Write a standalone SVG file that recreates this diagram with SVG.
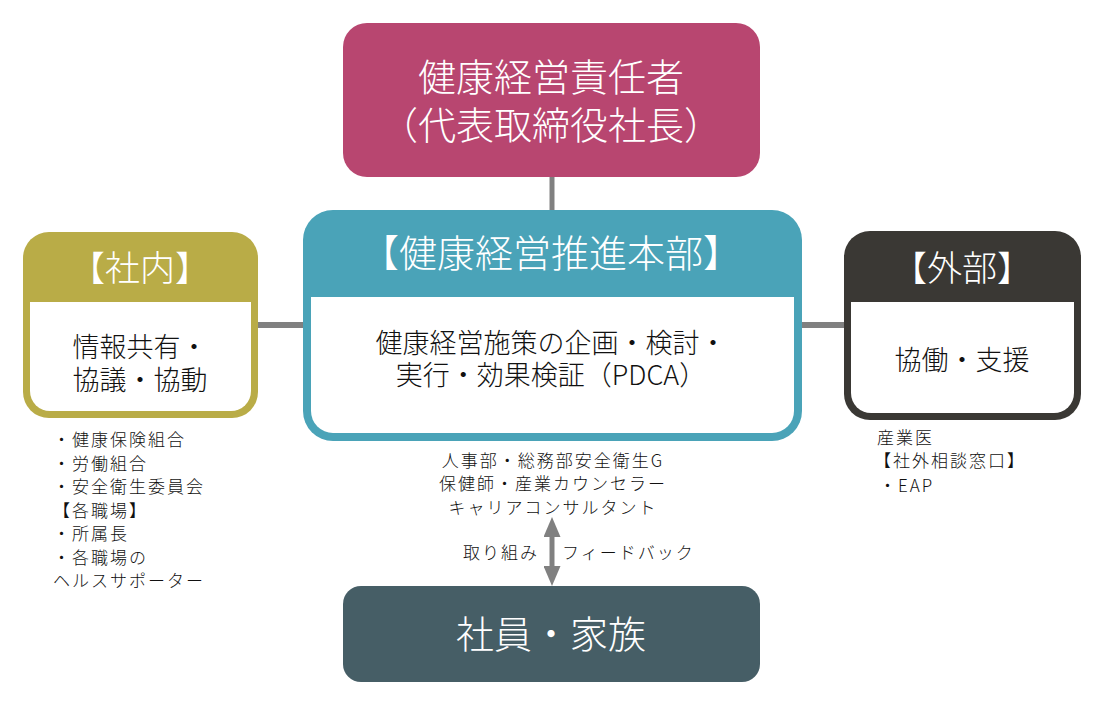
<svg xmlns="http://www.w3.org/2000/svg" width="1105" height="702" viewBox="0 0 1105 702">
<style>
text{font-family:"Noto Sans CJK JP","Noto Sans",sans-serif;}
.w{fill:#ffffff;font-weight:300;}
.k{fill:#111111;font-weight:300;}
.big{font-size:38px;}
.hd{font-size:35px;}
.body{font-size:27px;}
.sm{font-size:17px;letter-spacing:2px;fill:#111111;font-weight:300;}
.mid{text-anchor:middle;}
.conn{stroke:#808080;fill:none;}
</style>
<defs>
<marker id="ah" viewBox="0 0 20 17" refX="0" refY="8.5" markerWidth="20" markerHeight="17" markerUnits="userSpaceOnUse" orient="auto-start-reverse">
<path d="M0,0 L20,8.5 L0,17 Z" fill="#808080"/>
</marker>
</defs>
<rect width="1105" height="702" fill="#ffffff"/>
<g id="connectors">
<line class="conn" x1="552" y1="176" x2="552" y2="211" stroke-width="5"/>
<line class="conn" x1="256" y1="325" x2="305" y2="325" stroke-width="6"/>
<line class="conn" x1="800" y1="325" x2="846" y2="325" stroke-width="6"/>
<line class="conn" x1="552" y1="537" x2="552" y2="566" stroke-width="5" marker-start="url(#ah)" marker-end="url(#ah)"/>
<text class="sm" x="463" y="559">取り組み</text>
<text class="sm" x="562" y="559">フィードバック</text>
</g>
<g id="top">
<rect x="343" y="23" width="417" height="154" rx="24" fill="#B84670"/>
<text class="w big mid" x="551" y="91">健康経営責任者</text>
<text class="w big mid" x="551" y="139">（代表取締役社長）</text>
</g>
<g id="center">
<rect x="303" y="210" width="499" height="231" rx="30" fill="#4AA3B8"/>
<path d="M311,297 H794 V411 A22,22 0 0 1 772,433 H333 A22,22 0 0 1 311,411 Z" fill="#ffffff"/>
<text class="w big mid" x="551" y="267">【健康経営推進本部】</text>
<text class="k body mid" x="551" y="353">健康経営施策の企画・検討・</text>
<text class="k body mid" x="551" y="385">実行・効果検証（PDCA）</text>
<text class="sm mid" x="553" y="467">人事部・総務部安全衛生G</text>
<text class="sm mid" x="553" y="490">保健師・産業カウンセラー</text>
<text class="sm mid" x="553" y="514">キャリアコンサルタント</text>
</g>
<g id="left">
<rect x="23" y="232" width="235" height="186" rx="26" fill="#B9AC47"/>
<path d="M30,302 H251 V391 A20,20 0 0 1 231,411 H50 A20,20 0 0 1 30,391 Z" fill="#ffffff"/>
<text class="w hd mid" x="140" y="281">【社内】</text>
<text class="k body mid" x="140" y="357">情報共有・</text>
<text class="k body mid" x="140" y="390">協議・協動</text>
<text class="sm" x="53" y="446">・健康保険組合</text>
<text class="sm" x="53" y="469.5">・労働組合</text>
<text class="sm" x="53" y="493">・安全衛生委員会</text>
<text class="sm" x="53" y="516.5">【各職場】</text>
<text class="sm" x="53" y="540">・所属長</text>
<text class="sm" x="53" y="563.5">・各職場の</text>
<text class="sm" x="53" y="587">ヘルスサポーター</text>
</g>
<g id="right">
<rect x="844" y="231" width="237" height="189" rx="26" fill="#3A3834"/>
<path d="M851,302 H1074 V393 A20,20 0 0 1 1054,413 H871 A20,20 0 0 1 851,393 Z" fill="#ffffff"/>
<text class="w hd mid" x="962" y="281">【外部】</text>
<text class="k body mid" x="962" y="370">協働・支援</text>
<text class="sm" x="877" y="443.5">産業医</text>
<text class="sm" x="874" y="466.5">【社外相談窓口】</text>
<text class="sm" x="879" y="491.5">・EAP</text>
</g>
<g id="bottom">
<rect x="343" y="586" width="417" height="96" rx="18" fill="#465E66"/>
<text class="w big mid" x="551" y="648">社員・家族</text>
</g>
</svg>
